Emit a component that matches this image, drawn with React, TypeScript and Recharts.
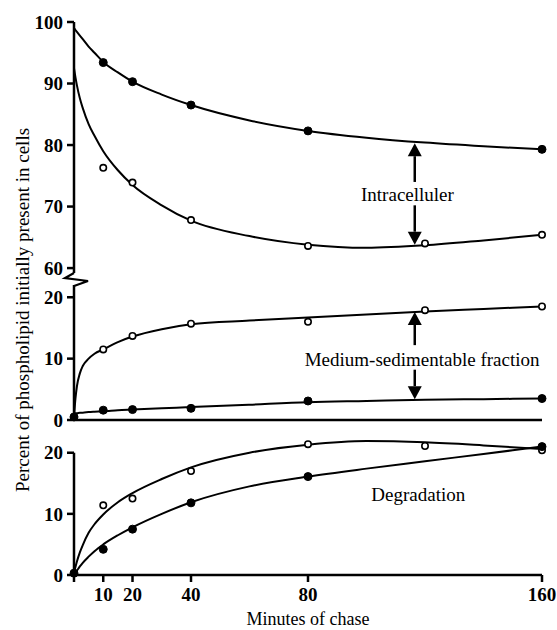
import React from "react";
import { LineChart, Line, XAxis, YAxis, ReferenceLine, ReferenceDot } from "recharts";

// minutes of chase where the samples were taken
const minFilled = [10, 20, 40, 80, 160];
const minOpen = [10, 20, 40, 80, 120, 160];
const minFilledWithZero = [0, 10, 20, 40, 80, 160];
const xTicks = [0, 10, 20, 40, 80, 160];

// intracellular (top panel)
const intraFilled = [93.4, 90.3, 86.5, 82.3, 79.3];
const intraOpen = [76.3, 73.9, 67.8, 63.6, 64.0, 65.4];
// medium-sedimentable fraction (middle panel)
const mediumOpen = [11.5, 13.7, 15.7, 16.0, 17.9, 18.5];
const mediumFilled = [0.5, 1.6, 1.7, 1.9, 3.1, 3.5];
// degradation (bottom panel)
const degrOpen = [11.4, 12.5, 17.0, 21.4, 21.1, 20.4];
const degrFilled = [0.3, 4.2, 7.5, 11.8, 16.1, 21.0];

// fitted curves
const curveMin = [0, 0.5, 1, 2, 3, 5, 7, 10, 15, 20, 30, 40, 60, 80, 100, 120, 140, 160];
const intraFilledCurve = [99.0, 98.7, 98.4, 97.8, 97.2, 96.0, 95.0, 93.5, 91.8, 90.3, 88.2, 86.5, 84.0, 82.3, 81.2, 80.4, 79.8, 79.3];
const intraOpenCurve = [92.5, 91.0, 89.7, 87.6, 86.0, 83.4, 81.5, 79.0, 75.9, 73.5, 70.2, 67.7, 65.2, 63.8, 63.3, 63.7, 64.5, 65.4];
const mediumOpenCurve = [0.5, 3.5, 5.5, 7.6, 8.8, 10.0, 10.8, 11.5, 12.7, 13.6, 14.8, 15.6, 16.2, 16.7, 17.2, 17.7, 18.1, 18.5];
const mediumFilledCurve = [1.1, 1.1, 1.1, 1.2, 1.2, 1.3, 1.35, 1.4, 1.6, 1.7, 1.9, 2.1, 2.5, 2.9, 3.1, 3.3, 3.4, 3.5];
const degrOpenCurve = [0.3, 1.3, 2.2, 3.7, 4.9, 6.9, 8.3, 9.9, 11.9, 13.4, 15.7, 17.6, 20.0, 21.3, 21.9, 21.7, 21.2, 20.6];
const degrFilledCurve = [0, 0.35, 0.7, 1.4, 2.0, 3.0, 3.9, 5.0, 6.5, 7.8, 10.0, 11.9, 14.5, 16.1, 17.4, 18.6, 19.8, 21.0];

const zip = (xs: number[], ys: number[]) => xs.map((x, i) => ({ x, y: ys[i] }));

const FONT = "'Liberation Serif', 'Times New Roman', Times, serif";
const W = 557;
const AXIS_W = 60;
const margin = (top: number, bottom: number) => ({ top, bottom, left: 74 - AXIS_W, right: W - 542 });

const tickStyle = { fill: "#000", fontSize: 19, fontFamily: FONT, fontWeight: "bold" as const };
const axisLine = { stroke: "#000", strokeWidth: 2.5 };

const filledDot = { r: 4, fill: "#000", stroke: "#000", strokeWidth: 1 };
const openDot = { r: 3.2, fill: "#fff", stroke: "#000", strokeWidth: 1.6 };

const curve = (data: { x: number; y: number }[]) => (
  <Line data={data} dataKey="y" type="monotone" stroke="#000" strokeWidth={2} dot={false} activeDot={false} isAnimationActive={false} />
);
const points = (data: { x: number; y: number }[], dot: any) => (
  <Line data={data} dataKey="y" stroke="none" dot={dot} activeDot={false} isAnimationActive={false} />
);

const arrow = (p: any) => {
  const { x1, y1, x2, y2 } = p;
  const dir = y2 > y1 ? 1 : -1;
  const hl = 13;
  const hw = 7;
  return (
    <g>
      <line x1={x1} y1={y1} x2={x2} y2={y2 - dir * hl} stroke="#000" strokeWidth={2.5} />
      <polygon points={`${x2},${y2} ${x2 - hw},${y2 - dir * hl} ${x2 + hw},${y2 - dir * hl}`} fill="#000" />
    </g>
  );
};

const label = (text: string) => (p: any) => (
  <text x={p.cx} y={p.cy} textAnchor="middle" dominantBaseline="central" fill="#000" fontFamily={FONT} fontSize={19}>
    {text}
  </text>
);

const breakMark = (p: any) => {
  const { cx, cy } = p;
  return (
    <path
      d={`M${cx},${cy - 12} L${cx - 9},${cy - 7} L${cx + 14},${cy - 4} L${cx},${cy + 1}`}
      fill="none"
      stroke="#000"
      strokeWidth={2.2}
    />
  );
};

const ARROW_X = 116.5;

export default function App() {
  return (
    <div style={{ position: "absolute", left: 0, top: 0, width: W, height: 630, background: "#fff", fontFamily: FONT }}>
      <svg width={44} height={630} style={{ position: "absolute", left: 0, top: 0 }}>
        <text
          x={22}
          y={310}
          transform="rotate(-90, 22, 310)"
          textAnchor="middle"
          dominantBaseline="central"
          fill="#000"
          fontFamily={FONT}
          fontSize={19}
        >
          Percent of phospholipid initially present in cells
        </text>
      </svg>

      {/* top: intracellular */}
      <div style={{ position: "absolute", left: 0, top: 0 }}>
        <LineChart width={W} height={292} margin={margin(22, 19)}>
          <XAxis dataKey="x" type="number" domain={[0, 160]} hide />
          <YAxis
            type="number"
            domain={[59.2, 100]}
            ticks={[60, 70, 80, 90, 100]}
            interval={0}
            width={AXIS_W}
            tick={tickStyle}
            axisLine={axisLine}
            tickLine={axisLine}
            tickSize={7}
            tickMargin={4}
          />
          {curve(zip(curveMin, intraFilledCurve))}
          {curve(zip(curveMin, intraOpenCurve))}
          {points(zip(minFilled, intraFilled), filledDot)}
          {points(zip(minOpen, intraOpen), openDot)}
          <ReferenceLine segment={[{ x: ARROW_X, y: 74.0 }, { x: ARROW_X, y: 80.3 }]} shape={arrow} />
          <ReferenceLine segment={[{ x: ARROW_X, y: 70.2 }, { x: ARROW_X, y: 63.8 }]} shape={arrow} />
          <ReferenceDot x={114} y={72.0} r={0} shape={label("Intracelluler")} />
        </LineChart>
      </div>

      {/* middle: medium-sedimentable fraction */}
      <div style={{ position: "absolute", left: 0, top: 270 }}>
        <LineChart width={W} height={160} margin={margin(15, 0)}>
          <XAxis
            dataKey="x"
            type="number"
            domain={[0, 160]}
            ticks={xTicks}
            interval={0}
            height={10}
            tick={false}
            axisLine={axisLine}
            tickLine={axisLine}
            tickSize={7}
          />
          <YAxis
            type="number"
            domain={[0, 22]}
            ticks={[0, 10, 20]}
            interval={0}
            width={AXIS_W}
            tick={tickStyle}
            axisLine={axisLine}
            tickLine={axisLine}
            tickSize={7}
            tickMargin={4}
          />
          {curve(zip(curveMin, mediumOpenCurve))}
          {curve(zip(curveMin, mediumFilledCurve))}
          {points(zip(minOpen, mediumOpen), openDot)}
          {points(zip(minFilledWithZero, mediumFilled), filledDot)}
          <ReferenceLine segment={[{ x: ARROW_X, y: 12.2 }, { x: ARROW_X, y: 17.6 }]} shape={arrow} />
          <ReferenceLine segment={[{ x: ARROW_X, y: 8.2 }, { x: ARROW_X, y: 3.4 }]} shape={arrow} />
          <ReferenceDot x={119} y={9.9} r={0} shape={label("Medium-sedimentable fraction")} />
          <ReferenceDot x={0} y={22} r={0} shape={breakMark} />
        </LineChart>
      </div>

      {/* bottom: degradation */}
      <div style={{ position: "absolute", left: 0, top: 430 }}>
        <LineChart width={W} height={200} margin={margin(10.5, 0)}>
          <XAxis
            dataKey="x"
            type="number"
            domain={[0, 160]}
            ticks={xTicks}
            interval={0}
            height={55}
            tick={tickStyle}
            tickFormatter={(v: number) => (v === 0 ? "" : String(v))}
            axisLine={axisLine}
            tickLine={axisLine}
            tickSize={7}
            tickMargin={6}
            label={{ value: "Minutes of chase", position: "insideBottom", offset: 5, fill: "#000", fontSize: 18, fontFamily: FONT }}
          />
          <YAxis
            type="number"
            domain={[0, 22]}
            ticks={[0, 10, 20]}
            interval={0}
            width={AXIS_W}
            tick={tickStyle}
            axisLine={false}
            tickLine={axisLine}
            tickSize={7}
            tickMargin={4}
          />
          <ReferenceLine segment={[{ x: 0, y: 0 }, { x: 0, y: 20 }]} stroke="#000" strokeWidth={2.5} />
          {curve(zip(curveMin, degrOpenCurve))}
          {curve(zip(curveMin, degrFilledCurve))}
          {points(zip(minOpen, degrOpen), openDot)}
          {points(zip(minFilledWithZero, degrFilled), filledDot)}
          <ReferenceDot x={117.7} y={13.1} r={0} shape={label("Degradation")} />
        </LineChart>
      </div>
    </div>
  );
}
